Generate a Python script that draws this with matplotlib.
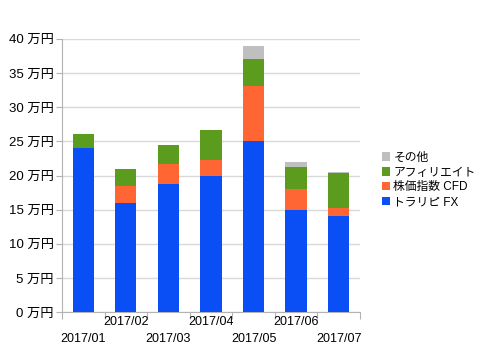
#!/usr/bin/env python3
"""Monthly income stacked bar chart."""

import matplotlib
matplotlib.use("Agg")
import matplotlib.pyplot as plt
import numpy as np

months = ["2017/01", "2017/02", "2017/03", "2017/04", "2017/05", "2017/06", "2017/07"]
series_names = ["トラリピ FX", "株価指数 CFD", "アフィリエイト", "その他"]
trarip_fx = [24.0, 16.0, 18.8, 20.0, 25.0, 15.0, 14.0]
index_cfd = [0.0, 2.5, 2.9, 2.3, 8.1, 3.0, 1.2]
affiliate = [2.1, 2.5, 2.8, 4.3, 3.9, 3.3, 5.2]
others = [0.0, 0.0, 0.0, 0.0, 2.0, 0.7, 0.1]
colors = ["#0a4ff5", "#ff6633", "#5b9c1f", "#bfbfbf"]

plt.rcParams["font.family"] = ["Liberation Sans", "Noto Sans CJK JP", "DejaVu Sans"]

fig = plt.figure(figsize=(4.8, 3.6), dpi=100)
ax = fig.add_axes([0.129, 0.133, 0.621, 0.759])

x = np.arange(len(months))
bottom = np.zeros(len(months))
handles = []
for name, vals, col in zip(series_names, [trarip_fx, index_cfd, affiliate, others], colors):
    h = ax.bar(x, vals, 0.5, bottom=bottom, color=col, label=name, zorder=3)
    handles.append(h)
    bottom += np.array(vals)

ax.set_xlim(-0.5, len(months) - 0.5)
ax.set_ylim(0, 40)
ax.set_yticks(range(0, 41, 5))
ax.set_yticklabels([f"{v} 万円" for v in range(0, 41, 5)], fontsize=9.5)
ax.yaxis.grid(True, color="#d9d9d9", linewidth=1, zorder=0)

# boundaries get tick marks, labels sit at the centres in two staggered rows
ax.set_xticks(np.arange(-0.5, len(months), 1.0))
ax.set_xticklabels([])
ax.set_xticks(x[1::2], minor=True)
ax.set_xticklabels(months[1::2], minor=True, fontsize=9)
ax.tick_params(axis="x", which="minor", length=0, pad=3)
ax.tick_params(axis="x", which="major", length=5, color="#b3b3b3")
ax.tick_params(axis="y", length=4, color="#b3b3b3", pad=2)

low = ax.secondary_xaxis("bottom")
low.set_xticks(x[0::2], months[0::2], fontsize=9)
low.tick_params(length=0, pad=15)
low.spines["bottom"].set_visible(False)

for side in ["top", "right"]:
    ax.spines[side].set_visible(False)
for side in ["left", "bottom"]:
    ax.spines[side].set_color("#b3b3b3")

fig.legend(handles[::-1], series_names[::-1], loc="center left", bbox_to_anchor=(0.785, 0.5),
           frameon=False, fontsize=8.5, handlelength=0.7, handleheight=0.7, handletextpad=0.3,
           labelspacing=0.25, borderaxespad=0)

fig.savefig("out.png", dpi=100)
